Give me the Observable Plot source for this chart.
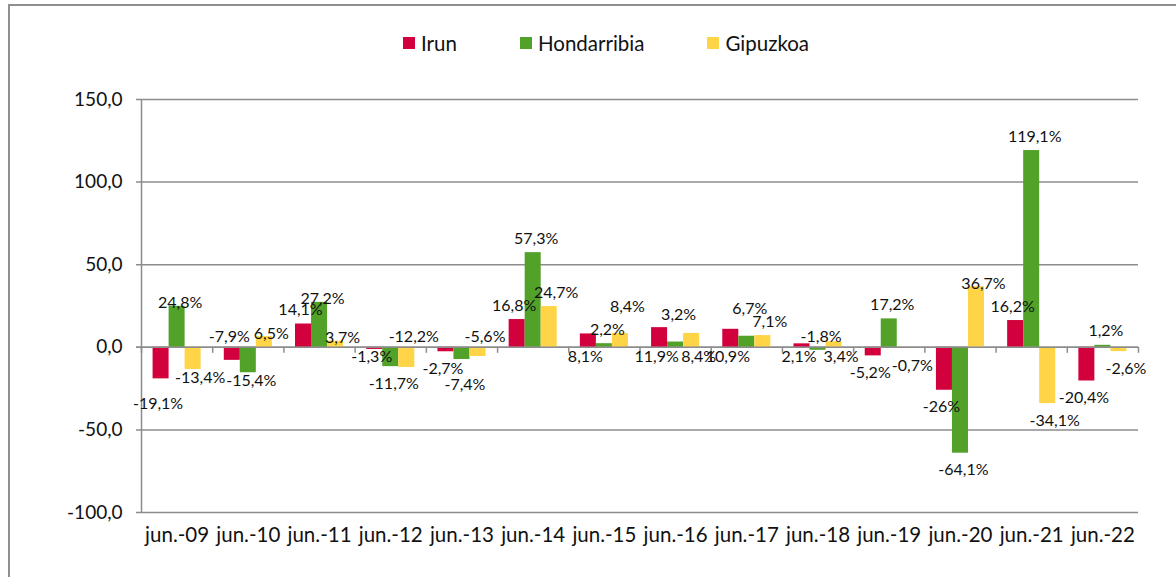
<!DOCTYPE html>
<html>
<head>
<meta charset="utf-8">
<script src="https://cdn.jsdelivr.net/npm/d3@7"></script>
<script src="https://cdn.jsdelivr.net/npm/@observablehq/plot@0.6"></script>
<style>
  html, body { margin: 0; padding: 0; background: #fff; }
  #wrap { position: relative; width: 1176px; height: 577px; overflow: hidden; font-family: Lato, sans-serif; }
  #frameTop { position: absolute; left: 8px; top: 4px; right: 0; height: 0; border-top: 2px solid #8f8f8f; }
  #frameLeft { position: absolute; left: 8px; top: 4px; bottom: 0; width: 0; border-left: 2px solid #8f8f8f; }
  #legend { position: absolute; left: 403px; top: 31px; display: flex; align-items: center; font-size: 20.5px; color: #111; }
  #legend .item { display: flex; align-items: center; margin-right: 63px; }
  #legend .item:last-child { margin-right: 0; }
  #legend .sw { width: 12px; height: 12px; margin-right: 6px; }
</style>
</head>
<body>
<div id="wrap">
  <div id="chart"></div>
  <div id="frameTop"></div>
  <div id="frameLeft"></div>
  <div id="legend"></div>
</div>
<script>
// ---- data ----
const categories = ["jun.-09","jun.-10","jun.-11","jun.-12","jun.-13","jun.-14","jun.-15","jun.-16","jun.-17","jun.-18","jun.-19","jun.-20","jun.-21","jun.-22"];
const seriesNames = ["Irun","Hondarribia","Gipuzkoa"];
const irun        = [-19.1, -7.9, 14.1, -1.3, -2.7, 16.8, 8.1, 11.9, 10.9, 2.1, -5.2, -26, 16.2, -20.4];
const hondarribia = [24.8, -15.4, 27.2, -11.7, -7.4, 57.3, 2.2, 3.2, 6.7, -1.8, 17.2, -64.1, 119.1, 1.2];
const gipuzkoa    = [-13.4, 6.5, 3.7, -12.2, -5.6, 24.7, 8.4, 8.4, 7.1, 3.4, -0.7, 36.7, -34.1, -2.6];
const yTicks = [-100, -50, 0, 50, 100, 150];

// ---- label placement (style: where each data label sits, as in the original) ----
// "out" = beyond the bar end, "near" = touching the bar end, "far" = further beyond the bar end,
// "above0" = just above the zero line, "below0" = just under the zero line
const irunPlace        = ["far","above0","out","below0","out","out","below0","below0","below0","below0","out","out","out","out"];
const hondarribiaPlace = ["near","near","near","out","far","out","out","far","far","above0","out","out","out","out"];
const gipuzkoaPlace    = ["near","near","near","above0","above0","out","far","below0","out","below0","out","near","out","out"];

// ---- styling ----
const colors = ["#D2003C", "#52A22A", "#FFD447"];
const labelDx = [-3, 3, 7];
const placeDy = { out: [-14, 17], near: [-3, 8], far: [-27, 25] };
const barW = 0.225;      // bar width as a fraction of one category
const grid = "#8c8c8c";

const seriesValues = [irun, hondarribia, gipuzkoa];
const seriesPlace = [irunPlace, hondarribiaPlace, gipuzkoaPlace];
const rows = [];
seriesValues.forEach((vals, s) => vals.forEach((v, i) => rows.push({i, s, series: seriesNames[s], cat: categories[i], value: v, place: seriesPlace[s][i]})));

const x1 = d => d.i + 0.5 + (d.s - 1.5) * barW;
const x2 = d => d.i + 0.5 + (d.s - 0.5) * barW;
const xc = d => d.i + 0.5 + (d.s - 1) * barW;
const fmtPct = v => String(v).replace(".", ",") + "%";
const fmtTick = v => v.toFixed(1).replace(".", ",");

const labelStyle = { fill: "#111", fontSize: 16, lineAnchor: "middle" };
const labelMarks = [];
seriesNames.forEach((name, s) => {
  const mine = rows.filter(d => d.s === s);
  for (const [place, [dyPos, dyNeg]] of Object.entries(placeDy)) {
    labelMarks.push(Plot.text(mine.filter(d => d.place === place && d.value >= 0), {
      x: xc, y: "value", text: d => fmtPct(d.value), dx: labelDx[s], dy: dyPos, ...labelStyle
    }));
    labelMarks.push(Plot.text(mine.filter(d => d.place === place && d.value < 0), {
      x: xc, y: "value", text: d => fmtPct(d.value), dx: labelDx[s], dy: dyNeg, ...labelStyle
    }));
  }
  labelMarks.push(Plot.text(mine.filter(d => d.place === "above0"), {
    x: xc, y: () => 0, text: d => fmtPct(d.value), dx: labelDx[s], dy: -10, ...labelStyle
  }));
  labelMarks.push(Plot.text(mine.filter(d => d.place === "below0"), {
    x: xc, y: () => 0, text: d => fmtPct(d.value), dx: labelDx[s], dy: 10, ...labelStyle
  }));
});

const chart = Plot.plot({
  width: 1176,
  height: 577,
  marginTop: 99,
  marginBottom: 65,
  marginLeft: 141,
  marginRight: 38,
  style: { fontFamily: "Lato, sans-serif", fontSize: "16px", background: "transparent", color: "#111", overflow: "visible" },
  x: { domain: [0, categories.length] },
  y: { domain: [-100, 150] },
  marks: [
    Plot.ruleY(yTicks, { stroke: grid, strokeWidth: 1.5, insetLeft: -5 }),
    Plot.ruleX([0], { y1: -100, y2: 150, stroke: grid, strokeWidth: 1.5 }),
    Plot.ruleX(d3.range(categories.length + 1), { y1: 0, y2: 0, insetBottom: -6, stroke: grid, strokeWidth: 1.5 }),
    Plot.rectY(rows, { x1, x2, y1: 0, y2: "value", fill: d => colors[d.s] }),
    Plot.ruleY([0], { stroke: grid, strokeWidth: 1.5, insetLeft: -5 }),
    ...labelMarks,
    Plot.axisY({ ticks: yTicks, tickSize: 0, tickPadding: 19, tickFormat: fmtTick, fontSize: 19, label: null }),
    Plot.axisX({ ticks: categories.map((c, i) => i + 0.5), tickFormat: v => categories[Math.floor(v)], tickSize: 0, tickPadding: 15, fontSize: 20.5, label: null })
  ]
});
document.getElementById("chart").appendChild(chart);

const legend = document.getElementById("legend");
seriesNames.forEach((name, s) => {
  const item = document.createElement("div");
  item.className = "item";
  const sw = document.createElement("span");
  sw.className = "sw";
  sw.style.background = colors[s];
  const t = document.createElement("span");
  t.textContent = name;
  item.appendChild(sw);
  item.appendChild(t);
  legend.appendChild(item);
});
</script>
</body>
</html>
